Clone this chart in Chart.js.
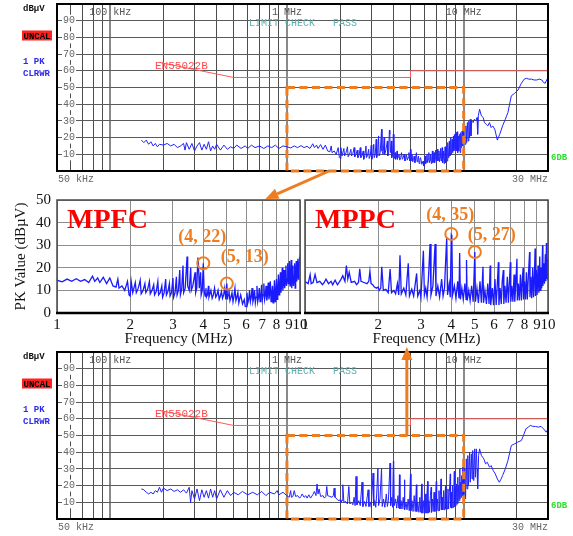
<!DOCTYPE html>
<html><head><meta charset="utf-8">
<script src="https://cdn.jsdelivr.net/npm/chart.js@4.4.0/dist/chart.umd.min.js"></script>
<style>
html,body{margin:0;padding:0;background:#fff;}
#wrap{position:relative;width:573px;height:536px;overflow:hidden;background:#fff;}
#wrap canvas{position:absolute;left:0;top:0;}
</style></head><body>
<div id="wrap">
<canvas id="cTop" width="573" height="536"></canvas>
<canvas id="cMpfc" width="573" height="536"></canvas>
<canvas id="cMppc" width="573" height="536"></canvas>
<canvas id="cBot" width="573" height="536"></canvas>
</div>
<script>
// ---------------- DATA (frequency in MHz, level in dBµV) ----------------
const mpfcLow = [[0.15,18.5],[0.155,17],[0.16,18.5],[0.165,16],[0.17,17.5],[0.175,15],[0.18,16.5],[0.185,14.5],[0.19,16],[0.2,15.5],[0.21,16.5],[0.22,15],[0.23,16],[0.24,14],[0.25,15],[0.26,16.5],[0.265,12.5],[0.27,17],[0.28,13],[0.29,16.5],[0.3,12],[0.31,15],[0.32,17],[0.33,12.5],[0.34,16],[0.35,13],[0.36,17.5],[0.37,12],[0.38,15],[0.39,13],[0.4,16],[0.42,12.5],[0.44,15.5],[0.46,13],[0.48,14.5],[0.5,13.5],[0.52,15.5],[0.55,13.5],[0.58,15],[0.6,13.5],[0.63,15.5],[0.66,14],[0.7,15],[0.74,13.5],[0.78,15],[0.82,14],[0.86,15.5],[0.9,13.5],[0.95,15]];
const mpfcMid = [[1.0,14.5],[1.05,13.8],[1.1,15],[1.15,14],[1.2,15.2],[1.25,14],[1.3,14.8],[1.35,13.5],[1.4,16.3],[1.43,14],[1.47,15.5],[1.5,13.5],[1.55,15.8],[1.6,13],[1.65,15.5],[1.7,12],[1.75,11.5],[1.78,15],[1.8,11],[1.85,12],[1.9,10],[1.95,14],[1.98,8],[2.0,7.5],[2.02,14],[2.05,9],[2.1,13.5],[2.12,9],[2.16,11],[2.2,14.5],[2.22,8.5],[2.26,10],[2.3,13],[2.32,9],[2.36,10.5],[2.4,14],[2.42,8.5],[2.46,10],[2.5,12.5],[2.52,8],[2.56,9.5],[2.6,14],[2.62,8],[2.66,9],[2.7,12],[2.72,7],[2.76,9],[2.8,15],[2.82,8],[2.86,9.5],[2.9,13],[2.92,7.5],[2.96,9],[3.0,15.5],[3.02,7],[3.06,9],[3.1,16],[3.12,8],[3.16,10],[3.2,19],[3.22,8],[3.26,10.5],[3.3,21],[3.32,9],[3.37,11],[3.43,25],[3.45,12],[3.5,10],[3.55,20],[3.57,10],[3.62,12],[3.7,18],[3.72,9],[3.76,11],[3.8,24.5],[3.82,22],[3.85,11],[3.9,18],[3.92,8],[3.96,10],[4.0,22],[4.03,10],[4.07,7.5],[4.1,11],[4.12,7],[4.16,8],[4.2,12],[4.22,7],[4.26,8.5],[4.3,10],[4.35,6.5],[4.4,8],[4.45,11],[4.5,7],[4.55,8],[4.6,10],[4.65,6],[4.7,7.5],[4.75,9.5],[4.8,6.5],[4.85,8],[4.9,11],[4.95,6],[5.0,13],[5.03,6],[5.06,8],[5.1,10],[5.15,5.5],[5.2,7],[5.25,9],[5.3,5],[5.35,7.5],[5.4,11],[5.45,5.5],[5.5,7],[5.55,9],[5.6,4.5],[5.65,6.5],[5.7,8],[5.8,4],[5.9,6],[5.95,3],[6.0,2.8],[6.05,9],[6.1,4.5],[6.15,6],[6.2,10],[6.25,5],[6.3,7],[6.35,11],[6.4,5],[6.45,6.5],[6.5,10],[6.55,4.5],[6.6,7],[6.65,12],[6.7,5],[6.75,7],[6.8,11],[6.85,5],[6.9,7.5],[6.95,12.5],[7.0,6],[7.05,8],[7.1,13],[7.15,6],[7.2,8],[7.25,12],[7.3,5.5],[7.35,8],[7.4,13.5],[7.45,6],[7.5,8.5],[7.55,14],[7.6,5],[7.65,8],[7.7,12],[7.75,4.5],[7.8,8],[7.85,14.5],[7.9,5],[7.95,9],[8.0,15],[8.05,6],[8.1,10],[8.15,17],[8.2,8],[8.25,11],[8.3,18],[8.35,9],[8.4,12],[8.45,20],[8.5,10],[8.55,13],[8.6,19],[8.65,11],[8.7,14],[8.75,21],[8.8,12],[8.85,15],[8.9,22],[8.95,13],[9.0,16],[9.05,23],[9.1,12],[9.15,16],[9.2,23.5],[9.25,11],[9.3,15],[9.35,21],[9.4,12],[9.45,16],[9.5,22],[9.55,11],[9.6,17],[9.65,23],[9.7,14],[9.75,18],[9.8,24],[9.85,15],[9.9,19],[9.95,23.5],[10.0,22]];
const mpfcHigh = [[10.2,16],[10.3,27],[10.4,17],[10.5,29],[10.6,18],[10.7,30],[10.8,20],[10.9,31],[11.0,21],[11.1,30],[11.3,29],[11.5,31],[11.7,30],[11.9,32],[12.0,22],[12.1,33],[12.3,37],[12.6,33],[12.9,32],[13.1,29],[13.4,28],[13.7,27],[14.0,29],[14.3,26],[14.6,27],[15.0,25],[15.5,18.5],[16.0,22],[16.6,27],[17.2,31],[17.8,35],[18.6,45],[19.4,46.5],[20.3,48.5],[21.2,52.5],[22.0,55],[22.6,55.5],[23.4,55],[24.2,55],[25.0,54.5],[25.9,54.5],[26.8,55],[27.7,54.5],[28.3,53],[28.9,52.5],[29.5,54.5],[30.0,56]];

const mppcLow = [[0.15,18],[0.155,17.5],[0.16,16],[0.165,15],[0.17,16],[0.175,15],[0.18,17],[0.185,16],[0.19,19],[0.195,16],[0.2,18.5],[0.21,17],[0.22,18],[0.23,16.5],[0.24,17.5],[0.25,16],[0.26,17.5],[0.27,15.5],[0.28,19],[0.285,10],[0.29,17],[0.3,12],[0.31,18],[0.32,11],[0.33,17.5],[0.34,13],[0.35,17],[0.36,12.5],[0.37,18],[0.38,13],[0.39,17],[0.4,12],[0.42,17.5],[0.44,13],[0.46,17],[0.48,14],[0.5,16],[0.53,14.5],[0.56,16.5],[0.6,14.5],[0.64,16],[0.68,14.5],[0.72,16.5],[0.76,14],[0.8,16],[0.85,15],[0.88,17],[0.9,14.5],[0.95,16]];
const mppcMid = [[1.0,13.9],[1.03,13],[1.05,17],[1.06,13],[1.08,13.5],[1.1,17],[1.12,13.5],[1.15,14],[1.18,12.5],[1.2,13.5],[1.22,15],[1.25,13],[1.28,14],[1.3,12.5],[1.33,14.5],[1.36,12.5],[1.4,14.5],[1.43,16.5],[1.46,14],[1.48,21],[1.5,15],[1.52,18],[1.55,13.5],[1.6,14],[1.63,12.5],[1.66,13.5],[1.68,19.5],[1.7,14],[1.75,13.5],[1.8,13],[1.83,14],[1.85,18.5],[1.87,13],[1.9,12.5],[1.93,11.5],[1.97,11],[2.0,11.5],[2.02,10],[2.05,11],[2.07,20.5],[2.1,10],[2.15,10.5],[2.2,9],[2.24,19.5],[2.27,9],[2.32,10],[2.36,8.5],[2.4,13],[2.43,8],[2.46,25.5],[2.49,8.5],[2.55,11],[2.6,8],[2.66,22],[2.69,7.5],[2.75,10.5],[2.8,7.5],[2.88,17.5],[2.91,7.5],[2.97,10],[3.0,7],[3.07,27.5],[3.1,8],[3.14,11],[3.18,7],[3.22,15],[3.27,30.5],[3.3,8],[3.36,12],[3.43,30.5],[3.46,7.5],[3.52,12],[3.58,7],[3.65,15],[3.7,7.5],[3.75,11],[3.83,33.5],[3.86,8],[3.92,13],[3.96,7],[4.0,34.5],[4.02,34],[4.05,8],[4.12,12],[4.18,6.5],[4.25,14],[4.3,6.5],[4.33,26.5],[4.36,6],[4.42,11],[4.48,6],[4.55,13],[4.6,6],[4.62,23.5],[4.65,5.5],[4.72,10],[4.78,5.5],[4.85,12],[4.92,5],[5.0,27],[5.03,5],[5.1,11],[5.17,4.5],[5.25,14],[5.32,4.5],[5.4,20.5],[5.43,4.5],[5.5,10],[5.58,4],[5.65,13],[5.72,4],[5.78,21],[5.81,3.5],[5.9,11],[5.97,3.5],[6.05,15],[6.12,3.5],[6.18,12],[6.25,22.5],[6.28,3.5],[6.35,11],[6.42,4],[6.48,14],[6.55,19],[6.58,4],[6.65,12],[6.72,4.5],[6.8,16],[6.87,4.5],[6.93,13],[7.0,22.5],[7.03,5],[7.1,12],[7.17,5],[7.25,17],[7.3,5],[7.38,14],[7.45,24],[7.48,5.5],[7.55,13],[7.62,5.5],[7.7,17],[7.77,5.5],[7.84,15],[7.9,20],[7.93,6],[8.0,14],[8.08,6],[8.15,18],[8.22,6],[8.3,16],[8.4,27],[8.43,7],[8.5,16],[8.57,6.5],[8.65,20],[8.72,7],[8.8,18],[8.85,28.5],[8.88,7.5],[8.95,19],[9.02,8],[9.1,21],[9.17,9],[9.25,25],[9.28,10],[9.35,20],[9.42,11],[9.5,30],[9.53,12],[9.6,22],[9.67,13],[9.75,26],[9.8,14],[9.85,31],[9.9,15],[9.95,24],[10.0,14.6]];
const mppcHigh = [[10.15,30],[10.25,12],[10.35,36],[10.45,18],[10.55,38],[10.65,20],[10.8,40],[10.9,22],[11.05,39],[11.15,24],[11.25,41],[11.4,23],[11.55,42],[11.65,25],[11.8,42],[11.9,30],[12.0,18],[12.15,38],[12.3,42],[12.6,38],[13.0,36],[13.3,33],[13.6,34],[14.0,31],[14.3,32],[14.7,29],[15.1,27],[15.5,24],[15.9,22],[16.3,24],[16.6,26],[17.2,30],[17.8,35],[18.6,44],[19.4,45],[20.2,46],[21.2,47],[21.8,50],[22.5,54],[23.2,55],[23.8,56],[24.6,55.5],[25.5,55.4],[26.4,55],[27.4,55.5],[28.3,54],[29.3,52],[29.7,53],[30.0,56]];

const limitLine = [[0.19,65],[0.5,56],[5,56],[5,60],[30,60]];   // EN55022B
const mpfcMarks = [[4,22],[5,13]];
const mppcMarks = [[4,35],[5,27]];

const emiGridFreqs = [0.06,0.07,0.08,0.09,0.1,0.2,0.3,0.4,0.5,0.6,0.7,0.8,0.9,1,2,3,4,5,6,7,8,9,10,20];
const emiDecades = [0.1,1,10];
const emiLevelTicks = [10,20,30,40,50,60,70,80,90];
const emiFreqLabels = [[0.1,'100 kHz'],[1,'1 MHz'],[10,'10 MHz']];
const detailFreqTicks = [1,2,3,4,5,6,7,8,9,10];
const detailLevelTicks = [0,10,20,30,40,50];
const zoomBox = [1,10,0,50];   // f1, f2, level1, level2

// ---------------- helpers ----------------
const MONO = '"Liberation Mono","DejaVu Sans Mono",monospace';
const SERIF = '"Liberation Serif","Times New Roman",serif';
const ORANGE = '#ee7d22';
const charts = {};
function pts(a){return a.map(p=>({x:p[0],y:p[1]}));}
function fixedTicks(list){return s=>{s.ticks=list.map(v=>({value:v}));};}
function forceSize(prop,val){return s=>{s[prop]=val;s.paddingTop=0;s.paddingBottom=0;s.paddingLeft=0;s.paddingRight=0;};}

Chart.defaults.animation = false;
Chart.defaults.responsive = false;
Chart.defaults.devicePixelRatio = 1;

// ---------------- EMI receiver panels ----------------
const emiDecor = {
  id:'emiDecor',
  afterDatasetsDraw(chart){
    const {ctx, chartArea:a} = chart;
    ctx.save();
    ctx.strokeStyle='#000'; ctx.lineWidth=2;
    ctx.strokeRect(a.left, a.top, a.right-a.left, a.bottom-a.top);
    ctx.restore();
  },
  afterDraw(chart){
    const {ctx, chartArea:a, scales} = chart;
    const T=a.top, B=a.bottom;
    ctx.save();
    ctx.textBaseline='alphabetic'; ctx.textAlign='left';
    ctx.font='bold 9px '+MONO;
    ctx.fillStyle='#111'; ctx.fillText('dBµV',23,T+7);
    ctx.fillStyle='#ff2020'; ctx.fillRect(22,T+26.5,30,10);
    ctx.fillStyle='#000'; ctx.fillText('UNCAL',23.5,T+34.5);
    ctx.fillStyle='#2a2aee'; ctx.fillText('1 PK',23,T+60); ctx.fillText('CLRWR',23,T+72);
    ctx.fillStyle='#2ee02e'; ctx.fillText('6DB',551,B-11);
    ctx.font='10px '+MONO; ctx.fillStyle='#555'; ctx.textAlign='center';
    emiFreqLabels.forEach(([f,t])=>ctx.fillText(t, scales.x.getPixelForValue(f), T+11));
    ctx.textAlign='left'; ctx.fillStyle='#666';
    ctx.fillText('50 kHz', 58, B+11);
    ctx.fillText('30 MHz', 512, B+11);
    ctx.fillStyle='#5aaeae';
    ctx.fillText('LIMIT CHECK   PASS', 249, T+22);
    ctx.font='11px '+MONO; ctx.fillStyle='#ff4a4a';
    ctx.fillText('EN55022B', 155, T+65);
    ctx.restore();
  }
};

function emiChart(id, top, bottom, series){
  return new Chart(document.getElementById(id), {
    type:'line',
    data:{datasets:[
      {data:pts(series), borderColor:'#2222ff', borderWidth:1, pointRadius:0, tension:0},
      {data:pts(limitLine), borderColor:'#ff5a5a', borderWidth:1, pointRadius:0, tension:0}
    ]},
    options:{
      layout:{padding:{left:0, top:top, right:25, bottom:536-bottom}},
      scales:{
        x:{type:'logarithmic', min:0.05, max:30,
           afterBuildTicks:fixedTicks(emiGridFreqs), afterFit:forceSize('height',0),
           ticks:{display:false, autoSkip:false},
           grid:{drawTicks:false, color:c=>(c.tick && emiDecades.includes(c.tick.value))?'#8a8a8a':'#4d4d4d',
                 lineWidth:c=>(c.tick && emiDecades.includes(c.tick.value))?2:1},
           border:{display:false}},
        y:{type:'linear', min:0, max:100,
           afterBuildTicks:fixedTicks(emiLevelTicks), afterFit:forceSize('width',57),
           ticks:{mirror:true, padding:6, autoSkip:false, color:'#666', font:{family:MONO,size:10},
                  showLabelBackdrop:true, backdropColor:'#fff', backdropPadding:{top:0,bottom:0,left:1,right:1}},
           grid:{drawTicks:false, color:'#5a5a5a', lineWidth:1},
           border:{display:false}}
      },
      plugins:{legend:{display:false}, tooltip:{enabled:false}}
    },
    plugins:[emiDecor]
  });
}

// ---------------- detail panels ----------------
const detailDecor = {
  id:'detailDecor',
  afterDatasetsDraw(chart, args, opts){
    const {ctx, chartArea:a, scales} = chart;
    ctx.save();
    ctx.strokeStyle='#4a4a4a'; ctx.lineWidth=1.5;
    ctx.strokeRect(a.left, a.top, a.right-a.left, a.bottom-a.top);
    ctx.strokeStyle='#000'; ctx.lineWidth=2.5;
    ctx.beginPath(); ctx.moveTo(a.left-1, a.bottom); ctx.lineTo(a.right+1, a.bottom); ctx.stroke();
    ctx.fillStyle='#ff0000'; ctx.font='bold 28px '+SERIF; ctx.textAlign='left'; ctx.textBaseline='alphabetic';
    ctx.fillText(opts.name, a.left+10, a.top+28);
    ctx.strokeStyle=ORANGE; ctx.lineWidth=2; ctx.fillStyle=ORANGE;
    ctx.font='bold 18px '+SERIF; ctx.textAlign='center'; ctx.textBaseline='middle';
    opts.marks.forEach((m,i)=>{
      const px=scales.x.getPixelForValue(m[0]), py=scales.y.getPixelForValue(m[1]);
      ctx.beginPath(); ctx.arc(px,py,6,0,Math.PI*2); ctx.stroke();
      const o=opts.offsets[i];
      ctx.fillText('('+m[0]+', '+m[1]+')', px+o[0], py+o[1]);
    });
    ctx.restore();
  }
};

function detailChart(id, left, right, series, marks, name, offsets, showY){
  return new Chart(document.getElementById(id), {
    type:'line',
    data:{datasets:[{data:pts(series), borderColor:'#1a1aff', borderWidth:1.3, pointRadius:0, tension:0}]},
    options:{
      layout:{padding:{left:0, top:200, right:573-right, bottom:183}},
      scales:{
        x:{type:'logarithmic', min:1, max:10,
           afterBuildTicks:fixedTicks(detailFreqTicks), afterFit:forceSize('height',40),
           ticks:{autoSkip:false, maxRotation:0, padding:3, color:'#111', font:{family:SERIF,size:15},
                  callback:v=>String(v)},
           title:{display:true, text:'Frequency (MHz)', color:'#111', font:{family:SERIF,size:15}, padding:{top:0,bottom:5}},
           grid:{drawTicks:false, color:'#8e8e8e', lineWidth:1},
           border:{display:false}},
        y:{type:'linear', min:0, max:50,
           afterBuildTicks:fixedTicks(detailLevelTicks), afterFit:forceSize('width',left),
           ticks:{display:showY, padding:6, color:'#111', font:{family:SERIF,size:15}},
           title:{display:showY, text:'PK Value (dBµV)', color:'#111', font:{family:SERIF,size:15}, padding:{top:12,bottom:0}},
           grid:{drawTicks:false, color:'#8e8e8e', lineWidth:1},
           border:{display:false}}
      },
      plugins:{legend:{display:false}, tooltip:{enabled:false},
               detailDecor:{name:name, marks:marks, offsets:offsets}}
    },
    plugins:[detailDecor]
  });
}

// ---------------- overlay (zoom boxes and arrows) ----------------
function arrow(ctx,x1,y1,x2,y2){
  const ang=Math.atan2(y2-y1,x2-x1), hl=13, hw=5.5;
  const bx=x2-hl*Math.cos(ang), by=y2-hl*Math.sin(ang);
  ctx.beginPath(); ctx.moveTo(x1,y1); ctx.lineTo(bx,by); ctx.stroke();
  ctx.beginPath(); ctx.moveTo(x2,y2);
  ctx.lineTo(bx+hw*Math.sin(ang), by-hw*Math.cos(ang));
  ctx.lineTo(bx-hw*Math.sin(ang), by+hw*Math.cos(ang));
  ctx.closePath(); ctx.fill();
}
const overlay = {
  id:'overlay',
  afterDraw(chart){
    const ctx=chart.ctx;
    const A=charts.top, B=charts.mpfc, C=charts.mppc, D=chart;
    ctx.save();
    ctx.strokeStyle=ORANGE; ctx.fillStyle=ORANGE; ctx.lineWidth=3;
    ctx.setLineDash([8,4.5]);
    [A,D].forEach(ch=>{
      const x1=ch.scales.x.getPixelForValue(zoomBox[0]), x2=ch.scales.x.getPixelForValue(zoomBox[1]);
      const y1=ch.scales.y.getPixelForValue(zoomBox[2]), y2=ch.scales.y.getPixelForValue(zoomBox[3]);
      ctx.strokeRect(x1,y2,x2-x1,y1-y2);
    });
    ctx.setLineDash([]);
    arrow(ctx, A.scales.x.getPixelForValue(1.73), A.scales.y.getPixelForValue(0),
               B.scales.x.getPixelForValue(7.2), B.scales.y.getPixelForValue(50)-1);
    const bx=D.scales.x.getPixelForValue(4.77);
    arrow(ctx, bx, D.scales.y.getPixelForValue(50), bx, C.chartArea.bottom+34);
    ctx.restore();
  }
};

// ---------------- build ----------------
charts.top = emiChart('cTop', 4, 171, mpfcLow.concat(mpfcMid, mpfcHigh));
charts.mpfc = detailChart('cMpfc', 57, 300, mpfcMid, mpfcMarks, 'MPFC', [[-1,-26],[18,-26]], true);
charts.mppc = detailChart('cMppc', 305, 548, mppcMid, mppcMarks, 'MPPC', [[-1,-19],[17,-17]], false);
charts.bot = (function(){
  const ch = emiChart('cBot', 352, 519, mppcLow.concat(mppcMid, mppcHigh));
  return ch;
})();
// draw overlay on the top-most canvas once all charts exist
charts.bot.config.plugins.push(overlay);
charts.bot.update();
</script>
</body></html>
